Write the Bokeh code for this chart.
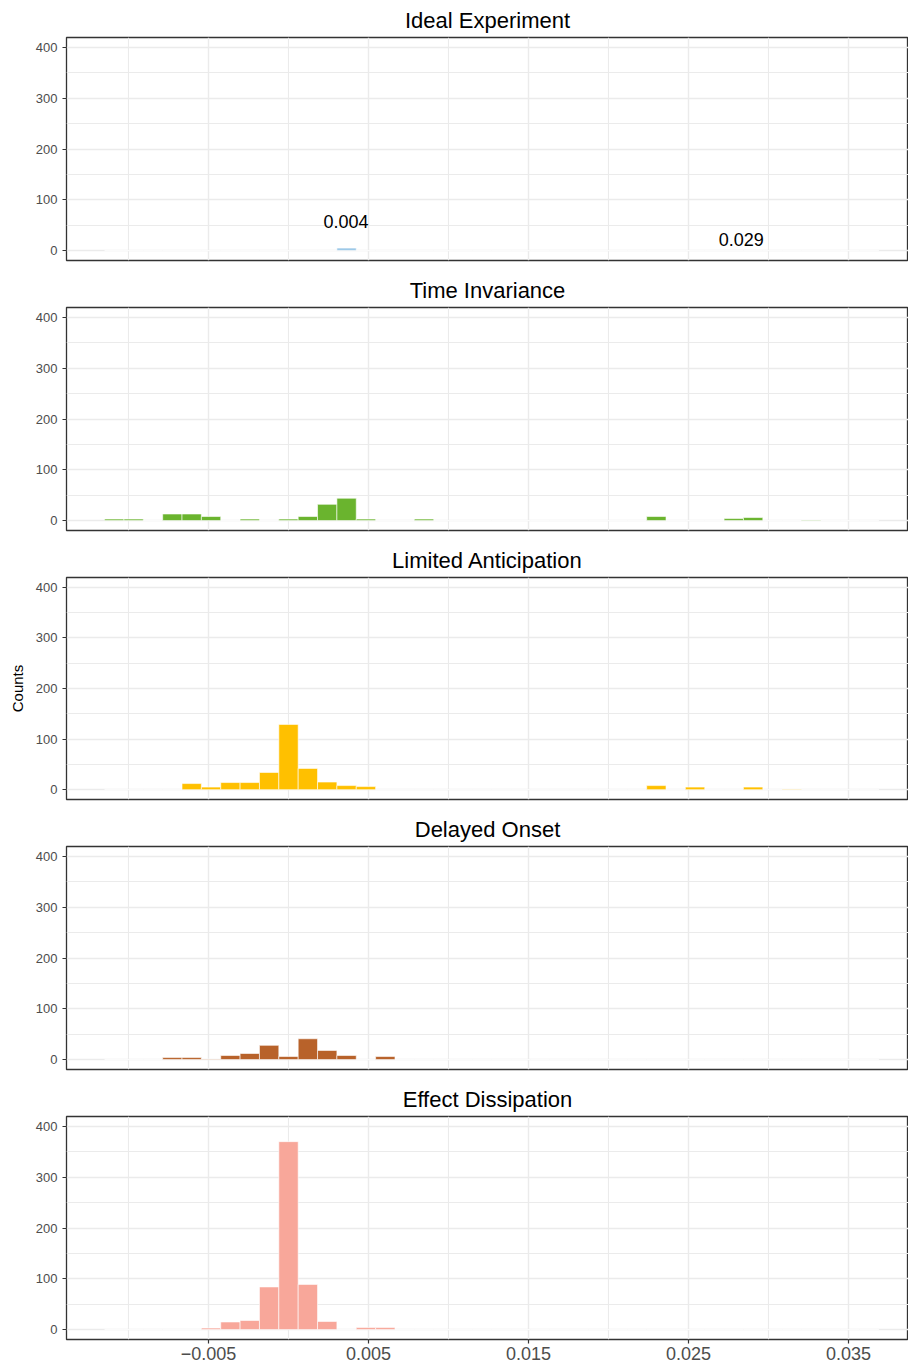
from bokeh.plotting import figure
from bokeh.layouts import column
from bokeh.models import FixedTicker, Range1d, Label, ColumnDataSource
from bokeh.embed import file_html
from bokeh.resources import INLINE

# ---------------- data ----------------
bin_width = 0.00121
bin_index = list(range(-9, 31))          # 40 histogram bins, centred on k * bin_width

titles = ["Ideal Experiment", "Time Invariance", "Limited Anticipation",
          "Delayed Onset", "Effect Dissipation"]
colors = ["#9DC9E8", "#6AB42E", "#FFC000", "#B8622A", "#F8A79A"]

# counts per bin (bin index -> count); all other bins are 0
ideal_counts = {3: 5}
time_invariance_counts = {-9: 3, -8: 3, -6: 13, -5: 13, -4: 8, -2: 3, 0: 3, 1: 8,
                          2: 32, 3: 44, 4: 3, 7: 3, 19: 8, 23: 4, 24: 6, 27: 1}
limited_anticipation_counts = {-5: 12, -4: 5, -3: 14, -2: 14, -1: 34, 0: 129, 1: 42,
                               2: 15, 3: 8, 4: 6, 19: 8, 21: 5, 24: 5, 26: 1}
delayed_onset_counts = {-6: 4, -5: 4, -4: 1, -3: 8, -2: 12, -1: 28, 0: 6, 1: 41,
                        2: 18, 3: 8, 5: 6}
effect_dissipation_counts = {-4: 3, -3: 15, -2: 18, -1: 84, 0: 370, 1: 89, 2: 16,
                             4: 4, 5: 4}
series = [ideal_counts, time_invariance_counts, limited_anticipation_counts,
          delayed_onset_counts, effect_dissipation_counts]

x_ticks = [-0.005, 0.005, 0.015, 0.025, 0.035]
x_tick_labels = ["\u22120.005", "0.005", "0.015", "0.025", "0.035"]
x_minor = [-0.01, 0.0, 0.01, 0.02, 0.03]
y_ticks = [0, 100, 200, 300, 400]
y_minor = [50, 150, 250, 350]

annot_text = ["0.004", "0.029"]
annot_x = [0.0036, 0.0283]
annot_y = [57.6, 22.4]

# ---------------- layout ----------------
FONT = "Liberation Sans"
frame_heights = [225, 226, 225, 226, 226]
top_borders = [35, 34, 34, 34, 34]
bottom_borders = [10, 10, 10, 10, 28]

figs = []
for i, (title, col, counts) in enumerate(zip(titles, colors, series)):
    last = i == len(titles) - 1
    height = top_borders[i] + frame_heights[i] + bottom_borders[i]
    p = figure(width=908, height=height,
               x_range=Range1d(-0.013875, 0.03875), y_range=Range1d(-19.5, 419.5),
               output_backend="svg", toolbar_location=None,
               min_border_left=66, min_border_right=0,
               min_border_top=top_borders[i], min_border_bottom=bottom_borders[i])
    p.background_fill_color = "white"
    p.border_fill_color = "white"
    p.outline_line_color = "#333333"
    p.outline_line_width = 1.3

    p.title.text = title
    p.title.text_font = FONT
    p.title.text_font_size = "22px"
    p.title.text_font_style = "normal"
    p.title.text_color = "black"
    p.title.align = "center"
    p.title.standoff = 10

    xticker = FixedTicker(ticks=x_ticks, minor_ticks=x_minor)
    yticker = FixedTicker(ticks=y_ticks, minor_ticks=y_minor)

    # x axis (only on the last panel)
    xa = p.xaxis[0]
    xa.ticker = xticker
    if last:
        xa.axis_line_color = None
        xa.minor_tick_out = 0
        xa.minor_tick_in = 0
        xa.major_tick_in = 0
        xa.major_label_overrides = {t: s for t, s in zip(x_ticks, x_tick_labels)}
        xa.major_label_text_font = FONT
        xa.major_label_text_font_size = "18px"
        xa.major_label_text_color = "#4D4D4D"
        xa.major_tick_out = 4
        xa.major_tick_line_color = "#333333"
        xa.major_tick_line_width = 1.2
        xa.major_label_standoff = 3
    else:
        xa.visible = False

    # y axis
    ya = p.yaxis[0]
    ya.ticker = yticker
    ya.axis_line_color = None
    ya.minor_tick_out = 0
    ya.minor_tick_in = 0
    ya.major_tick_in = 0
    ya.major_tick_out = 4
    ya.major_tick_line_color = "#333333"
    ya.major_tick_line_width = 1.2
    ya.major_label_text_font = FONT
    ya.major_label_text_font_size = "13px"
    ya.major_label_text_color = "#4D4D4D"
    ya.major_label_standoff = 5
    if i == 2:
        ya.axis_label = "Counts"
        ya.axis_label_text_font = FONT
        ya.axis_label_text_font_size = "15px"
        ya.axis_label_text_font_style = "normal"
        ya.axis_label_text_color = "black"
        ya.axis_label_standoff = 7

    # grid
    p.xgrid[0].ticker = xticker
    p.ygrid[0].ticker = yticker
    for g in (p.xgrid[0], p.ygrid[0]):
        g.grid_line_color = "#EBEBEB"
        g.grid_line_width = 1.4
        g.minor_grid_line_color = "#EBEBEB"
        g.minor_grid_line_width = 1.1

    src = ColumnDataSource(dict(
        x=[k * bin_width for k in bin_index],
        top=[counts.get(k, 0) for k in bin_index],
    ))
    p.vbar(x="x", width=bin_width, top="top", bottom=0, source=src,
           fill_color=col, line_color="white", line_width=0.6)

    if i == 0:
        for t, ax, ay in zip(annot_text, annot_x, annot_y):
            p.add_layout(Label(x=ax, y=ay, text=t, text_align="center",
                               text_baseline="middle", text_font=FONT,
                               text_font_size="18px", text_color="black"))
    figs.append(p)

layout = column(*figs, spacing=0)
open("out.html", "w").write(file_html(layout, INLINE))
